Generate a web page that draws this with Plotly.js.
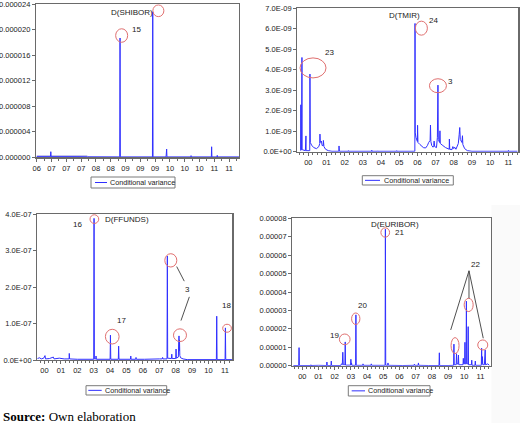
<!DOCTYPE html>
<html><head><meta charset="utf-8">
<script src="https://cdn.plot.ly/plotly-3.0.1.min.js"></script>
<style>html,body{margin:0;padding:0;background:#fff}#chart{width:520px;height:423px}</style>
</head><body><div id="chart"></div>
<script>
// ---------- DATA ----------
// Panel 1: D(SHIBOR), x = position on the tick-label scale
const shiborTicks = ['06','07','07','07','08','08','09','09','09','10','10','10','11','11'];
const shiborX = [0.00,0.93,0.95,0.97,2.70,2.72,2.74,3.42,5.61,5.63,5.65,7.82,7.84,7.86,8.74,8.76,8.77,8.78,8.80,10.41,10.43,10.45,11.80,11.82,11.84,12.18,12.20,12.22,13.70];
const shiborY = [1.0e-7,1.0e-7,8.8e-7,1.0e-7,1.0e-7,2.0e-7,1.0e-7,0.8e-7,0.6e-7,1.87e-5,0.6e-7,0.6e-7,2.28e-5,0.6e-7,0.6e-7,6.0e-7,0.6e-7,1.29e-6,0.6e-7,0.6e-7,2.6e-7,0.6e-7,0.6e-7,1.65e-6,0.6e-7,0.6e-7,3.0e-7,0.6e-7,0.6e-7];
const shiborBandX = [0.00,3.42];
const shiborBandY = [3.8e-7,3.8e-7];

// Panel 2: D(TMIR), x = years since 2000
const yearTicks = ['00','01','02','03','04','05','06','07','08','09','10','11'];
const tmirX = [-0.42,-0.41,-0.40,-0.37,-0.35,-0.34,-0.16,-0.13,-0.12,0.08,0.09,0.11,0.18,0.30,0.45,0.58,0.63,0.64,0.66,0.72,0.76,0.82,0.83,0.86,0.95,1.10,1.30,1.68,1.69,1.71,2.20,2.21,2.22,3.48,3.49,3.50,3.80,3.81,3.82,4.85,4.86,4.87,5.86,5.87,5.88,5.92,6.00,6.01,6.03,6.14,6.25,6.33,6.45,6.55,6.62,6.70,6.72,6.74,6.79,6.86,6.90,6.92,6.95,7.05,7.10,7.13,7.15,7.22,7.24,7.26,7.40,7.55,7.75,7.76,7.78,7.90,7.95,8.00,8.05,8.12,8.25,8.30,8.33,8.36,8.45,8.48,8.50,8.60,8.75,9.00,11.00,11.01,11.02,11.50];
const tmirY = [0.05e-9,2.29e-9,0.10e-9,0.10e-9,4.60e-9,0.10e-9,0.05e-9,0.77e-9,0.05e-9,0.05e-9,3.79e-9,0.45e-9,0.32e-9,0.20e-9,0.15e-9,0.25e-9,0.40e-9,0.86e-9,0.45e-9,0.52e-9,0.30e-9,0.30e-9,0.55e-9,0.25e-9,0.12e-9,0.05e-9,0.02e-9,0.02e-9,0.28e-9,0.02e-9,0.02e-9,0.05e-9,0.02e-9,0.02e-9,0.07e-9,0.02e-9,0.02e-9,0.04e-9,0.02e-9,0.02e-9,0.05e-9,0.02e-9,0.02e-9,6.26e-9,0.93e-9,0.70e-9,0.50e-9,1.29e-9,0.45e-9,0.35e-9,0.25e-9,0.20e-9,0.18e-9,0.30e-9,0.45e-9,0.55e-9,1.30e-9,0.50e-9,0.30e-9,0.22e-9,0.30e-9,0.52e-9,0.25e-9,0.20e-9,0.70e-9,3.25e-9,0.60e-9,0.45e-9,1.02e-9,0.40e-9,0.30e-9,0.20e-9,0.12e-9,0.62e-9,0.12e-9,0.10e-9,0.25e-9,0.15e-9,0.22e-9,0.12e-9,0.40e-9,0.85e-9,1.18e-9,0.60e-9,0.45e-9,0.78e-9,0.35e-9,0.15e-9,0.05e-9,0.02e-9,0.02e-9,0.06e-9,0.02e-9,0.02e-9];
const tmirTickText = ['0.0E+00','1.0E-09','2.0E-09','3.0E-09','4.0E-09','5.0E-09','6.0E-09','7.0E-09'];

// Panel 3: D(FFUNDS), x = years since 2000
const ffundsX = [-0.44,-0.30,-0.20,-0.05,0.03,0.06,0.30,0.54,0.58,0.90,1.20,1.50,1.51,1.53,2.00,2.50,3.00,3.02,3.04,3.13,3.14,3.16,4.00,4.02,4.04,4.50,4.52,4.54,5.24,5.26,5.28,5.56,5.58,5.60,6.10,6.40,7.00,7.18,7.20,7.22,7.47,7.49,7.51,7.74,7.76,7.78,8.00,8.02,8.04,8.16,8.18,8.19,8.20,8.21,8.23,8.25,8.30,8.45,8.70,9.70,9.71,10.48,10.50,10.52,11.01,11.03,11.05,11.43];
const ffundsY = [0.04e-7,0.06e-7,0.03e-7,0.05e-7,0.12e-7,0.03e-7,0.04e-7,0.08e-7,0.03e-7,0.05e-7,0.03e-7,0.03e-7,0.18e-7,0.03e-7,0.02e-7,0.02e-7,0.02e-7,3.88e-7,0.03e-7,0.03e-7,0.11e-7,0.02e-7,0.02e-7,0.68e-7,0.02e-7,0.02e-7,0.38e-7,0.02e-7,0.02e-7,0.11e-7,0.02e-7,0.02e-7,0.07e-7,0.02e-7,0.02e-7,0.03e-7,0.03e-7,0.03e-7,0.07e-7,0.03e-7,0.03e-7,2.85e-7,0.05e-7,0.04e-7,0.16e-7,0.04e-7,0.04e-7,0.30e-7,0.05e-7,0.08e-7,0.62e-7,0.20e-7,0.66e-7,0.25e-7,0.55e-7,0.12e-7,0.06e-7,0.03e-7,0.01e-7,0.01e-7,0.02e-7,0.01e-7,1.20e-7,0.01e-7,0.01e-7,0.88e-7,0.01e-7,0.01e-7];
const ffundsTickText = ['0.0E+00','1.0E-07','2.0E-07','3.0E-07','4.0E-07'];

// Panel 4: D(EURIBOR), x = years since 2000
const euriborX = [-0.55,-0.22,-0.20,-0.18,0.52,0.53,0.54,1.00,1.30,1.50,1.52,1.54,1.77,1.79,1.81,2.38,2.41,2.47,2.50,2.53,2.63,2.65,2.67,2.98,3.00,3.02,3.04,3.06,3.29,3.31,3.33,3.73,3.75,3.77,4.24,4.26,4.28,5.11,5.13,5.15,5.27,5.29,5.31,6.20,6.90,6.92,6.94,7.15,7.17,7.19,7.80,8.44,8.46,8.48,9.00,9.34,9.36,9.38,9.50,9.52,9.55,9.62,9.64,9.66,9.92,9.94,9.96,10.02,10.04,10.06,10.11,10.13,10.15,10.22,10.24,10.26,10.44,10.46,10.48,10.66,10.68,10.70,11.05,11.07,11.09,11.12,11.14,11.24,11.26,11.27,11.29,11.31,11.45,11.55];
const euriborY = [0.01e-5,0.01e-5,0.98e-5,0.01e-5,0.01e-5,0.05e-5,0.01e-5,0.02e-5,0.01e-5,0.01e-5,0.20e-5,0.01e-5,0.01e-5,0.25e-5,0.01e-5,0.01e-5,0.10e-5,0.05e-5,0.73e-5,0.05e-5,0.05e-5,1.29e-5,0.03e-5,0.03e-5,0.35e-5,0.05e-5,0.15e-5,0.02e-5,0.02e-5,2.76e-5,0.02e-5,0.02e-5,0.10e-5,0.02e-5,0.02e-5,0.10e-5,0.02e-5,0.02e-5,7.41e-5,0.02e-5,0.02e-5,0.15e-5,0.02e-5,0.01e-5,0.02e-5,0.08e-5,0.02e-5,0.02e-5,0.15e-5,0.02e-5,0.01e-5,0.01e-5,0.70e-5,0.01e-5,0.01e-5,0.02e-5,1.17e-5,0.05e-5,0.05e-5,0.65e-5,0.10e-5,0.10e-5,0.58e-5,0.05e-5,0.05e-5,0.40e-5,0.10e-5,0.10e-5,1.27e-5,0.10e-5,0.10e-5,3.50e-5,0.10e-5,0.10e-5,2.12e-5,0.05e-5,0.05e-5,0.30e-5,0.02e-5,0.02e-5,0.25e-5,0.02e-5,0.02e-5,0.95e-5,0.10e-5,0.49e-5,0.05e-5,0.05e-5,0.58e-5,0.20e-5,0.85e-5,0.05e-5,0.10e-5,0.02e-5];

const seriesName = 'Conditional variance';

// ---------- LAYOUT HELPERS ----------
const W = 520, H = 423;
const fx = x => x / W, fy = y => 1 - y / H;
const LINE = '#3030ff';
const AX = '#6a6a6a';
const TXT = '#222';
const FONT = 'Liberation Sans, Arial, sans-serif';

function axisBase(extra) {
  return Object.assign({
    showline: true, mirror: true, linecolor: AX, linewidth: 1.2,
    ticks: 'outside', ticklen: 3, tickcolor: AX, tickwidth: 1,
    showgrid: false, zeroline: false, fixedrange: true, ticklabeloverflow: 'allow',
    tickfont: {family: FONT, size: 7.5, color: TXT}
  }, extra);
}
const minorX = {ticks: 'outside', ticklen: 2, tickcolor: AX, tickmode: 'linear', tick0: 0, dtick: 0.25};

const traces = [
  {x: shiborBandX, y: shiborBandY, xaxis: 'x', yaxis: 'y', mode: 'lines', fill: 'tozeroy',
   fillcolor: 'rgba(150,150,215,0.55)', line: {width: 0}, hoverinfo: 'skip'},
  {x: shiborX, y: shiborY, xaxis: 'x', yaxis: 'y', mode: 'lines', name: seriesName, line: {color: LINE, width: 1}},
  {x: tmirX, y: tmirY, xaxis: 'x2', yaxis: 'y2', mode: 'lines', name: seriesName, line: {color: LINE, width: 1}},
  {x: ffundsX, y: ffundsY, xaxis: 'x3', yaxis: 'y3', mode: 'lines', name: seriesName, line: {color: LINE, width: 1}},
  {x: euriborX, y: euriborY, xaxis: 'x4', yaxis: 'y4', mode: 'lines', name: seriesName, line: {color: LINE, width: 1}}
];

const yearVals = yearTicks.map((t, i) => i);
const layout = {
  width: W, height: H, margin: {l: 0, r: 0, t: 0, b: 0},
  paper_bgcolor: '#fff', plot_bgcolor: 'rgba(0,0,0,0)', showlegend: false,
  xaxis: axisBase({domain: [fx(36), fx(239)], range: [-0.05, 13.67], anchor: 'y',
    tickmode: 'array', tickvals: shiborTicks.map((t, i) => i), ticktext: shiborTicks,
    minor: {ticks: 'outside', ticklen: 2, tickcolor: AX, tickmode: 'linear', tick0: 0, dtick: 0.5}}),
  yaxis: axisBase({domain: [fy(157.3), fy(4.2)], range: [0, 0.000024], anchor: 'x',
    tickmode: 'array', tickvals: [0, 4e-6, 8e-6, 12e-6, 16e-6, 20e-6, 24e-6],
    ticktext: ['0.000000','0.000004','0.000008','0.000012','0.000016','0.000020','0.000024']}),
  xaxis2: axisBase({domain: [fx(297.3), fx(518.3)], range: [-0.605, 11.55], anchor: 'y2',
    tickmode: 'array', tickvals: yearVals, ticktext: yearTicks, minor: minorX}),
  yaxis2: axisBase({domain: [fy(151.7), fy(8.3)], range: [0, 7e-9], anchor: 'x2',
    tickmode: 'array', tickvals: tmirTickText.map((t, i) => i * 1e-9), ticktext: tmirTickText}),
  xaxis3: axisBase({domain: [fx(37.3), fx(232.3)], range: [-0.44, 11.45], anchor: 'y3',
    tickmode: 'array', tickvals: yearVals, ticktext: yearTicks, minor: minorX}),
  yaxis3: axisBase({domain: [fy(360), fy(214)], range: [0, 4e-7], anchor: 'x3',
    tickmode: 'array', tickvals: ffundsTickText.map((t, i) => i * 1e-7), ticktext: ffundsTickText}),
  xaxis4: axisBase({domain: [fx(292.3), fx(490.7)], range: [-0.617, 11.63], anchor: 'y4',
    tickmode: 'array', tickvals: yearVals, ticktext: yearTicks, minor: minorX}),
  yaxis4: axisBase({domain: [fy(365.7), fy(218.3)], range: [0, 8e-5], anchor: 'x4',
    tickmode: 'array', tickvals: [0, 1e-5, 2e-5, 3e-5, 4e-5, 5e-5, 6e-5, 7e-5, 8e-5],
    ticktext: ['0.00000','0.00001','0.00002','0.00003','0.00004','0.00005','0.00006','0.00007','0.00008']}),
  shapes: [], annotations: []
};

// faint grey strip at the right of the lower-right panel (scan artefact)
layout.shapes.push({type: 'rect', xref: 'paper', yref: 'paper', x0: fx(491.5), x1: 1, y0: 0, y1: fy(205),
  fillcolor: '#fafafa', line: {width: 0}, layer: 'below'});

// ---------- RED CIRCLES, LABELS AND CALLOUT LINES ----------
// [axis suffix, x (data), y (data), width px, height px]
const circles = [
  ['', 5.74, 1.909e-5, 12, 13.5], ['', 8.22, 2.297e-5, 11, 11.7],
  ['2', 6.22, 6.03e-9, 12, 14], ['2', 0.26, 4.09e-9, 26, 20], ['2', 7.13, 3.22e-9, 17, 14],
  ['3', 3.04, 3.86e-7, 8.7, 8.7], ['3', 4.13, 0.64e-7, 13.7, 14.7], ['3', 7.70, 2.73e-7, 12, 13.3],
  ['3', 8.26, 0.68e-7, 13, 12.7], ['3', 11.13, 0.87e-7, 8.7, 8],
  ['4', 5.12, 7.23e-5, 8.7, 9.3], ['4', 3.30, 2.55e-5, 8.3, 11.5], ['4', 2.62, 1.43e-5, 10.7, 10.7],
  ['4', 9.43, 1.09e-5, 8, 16], ['4', 10.27, 3.30e-5, 9, 13.3], ['4', 11.14, 1.125e-5, 10, 10]
];
circles.forEach(([s, x, y, w, h]) => layout.shapes.push({
  type: 'circle', xref: 'x' + s, yref: 'y' + s, xsizemode: 'pixel', ysizemode: 'pixel',
  xanchor: x, yanchor: y, x0: -w / 2, x1: w / 2, y0: -h / 2, y1: h / 2,
  line: {color: '#e07070', width: 1}
}));

// [axis suffix, x, y, text]
const labels = [
  ['', 6.44, 2.27e-5, 'D(SHIBOR)'], ['', 6.71, 2.007e-5, '15'],
  ['2', 5.28, 6.65e-9, 'D(TMIR)'], ['2', 6.88, 6.42e-9, '24'], ['2', 1.19, 4.82e-9, '23'], ['2', 7.83, 3.43e-9, '3'],
  ['3', 5.01, 3.855e-7, 'D(FFUNDS)'], ['3', 2.0, 3.71e-7, '16'], ['3', 4.68, 1.08e-7, '17'],
  ['3', 8.71, 1.92e-7, '3'], ['3', 11.11, 1.48e-7, '18'],
  ['4', 5.72, 7.68e-5, 'D(EURIBOR)'], ['4', 6.03, 7.23e-5, '21'], ['4', 3.70, 3.28e-5, '20'],
  ['4', 2.0, 1.63e-5, '19'], ['4', 10.70, 5.47e-5, '22']
];
labels.forEach(([s, x, y, t]) => layout.annotations.push({
  xref: 'x' + s, yref: 'y' + s, x: x, y: y, text: t, showarrow: false,
  xanchor: 'center', yanchor: 'middle', font: {family: FONT, size: 8, color: TXT}
}));

// callout lines [axis suffix, x0, y0, x1, y1]
const callouts = [
  ['3', 8.06, 2.56e-7, 8.52, 2.16e-7], ['3', 8.83, 1.73e-7, 8.32, 1.08e-7],
  ['4', 10.29, 5.15e-5, 9.16, 1.94e-5], ['4', 10.29, 5.15e-5, 10.29, 3.66e-5], ['4', 10.29, 5.15e-5, 11.17, 1.49e-5]
];
callouts.forEach(([s, x0, y0, x1, y1]) => layout.shapes.push({
  type: 'line', xref: 'x' + s, yref: 'y' + s, x0: x0, y0: y0, x1: x1, y1: y1,
  line: {color: '#505050', width: 1}
}));

// ---------- LEGEND BOXES (pixel boxes) ----------
// [box left, top, right, bottom, line start, line end, text left]
const legends = [
  [91, 177, 175, 188, 95, 107, 108.3],
  [362.3, 175.7, 453.3, 185, 365, 380, 382.3],
  [86, 385.7, 166.7, 395, 88.3, 101.7, 102.7],
  [348.3, 385.7, 430, 396, 351.7, 365, 366]
];
legends.forEach(([l, t, r, b, l0, l1, tx]) => {
  const m = (t + b) / 2;
  layout.shapes.push({type: 'rect', xref: 'paper', yref: 'paper', x0: fx(l), x1: fx(r), y0: fy(b), y1: fy(t),
    line: {color: '#7a7a7a', width: 1}, fillcolor: '#fff'});
  layout.shapes.push({type: 'line', xref: 'paper', yref: 'paper', x0: fx(l0), x1: fx(l1), y0: fy(m), y1: fy(m),
    line: {color: LINE, width: 1}});
  layout.annotations.push({xref: 'paper', yref: 'paper', x: fx(tx), y: fy(m), text: seriesName,
    showarrow: false, xanchor: 'left', yanchor: 'middle', font: {family: FONT, size: 7.2, color: TXT}});
});

// source note
layout.annotations.push({xref: 'paper', yref: 'paper', x: fx(1), y: fy(416), xanchor: 'left', yanchor: 'middle',
  showarrow: false, text: '<b>Source:</b> Own elaboration',
  font: {family: 'Liberation Serif, Times New Roman, serif', size: 13, color: '#000'}});

Plotly.newPlot('chart', traces, layout, {staticPlot: true, displayModeBar: false});
</script></body></html>
